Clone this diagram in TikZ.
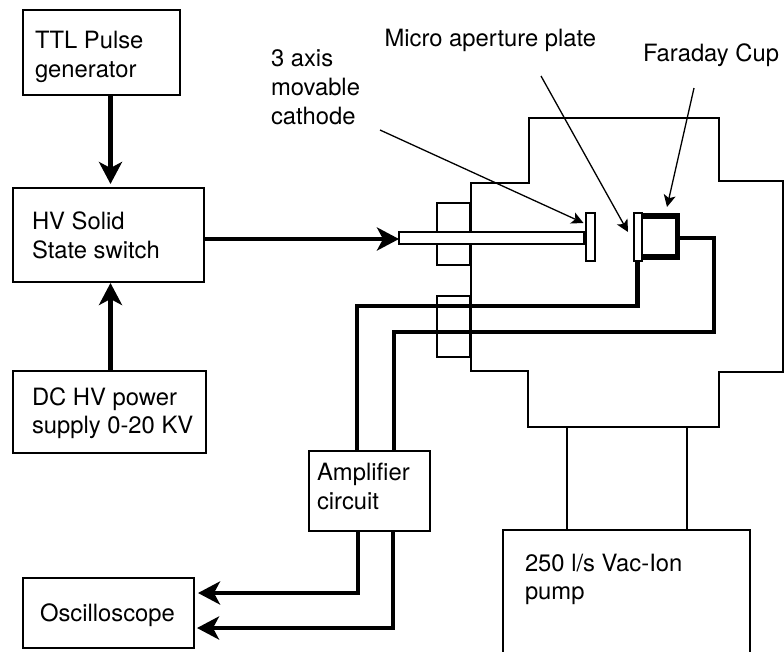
\documentclass[tikz,border=0pt]{standalone}
\usepackage{fontspec}
\setmainfont{TeX Gyre Heros}
\usetikzlibrary{arrows.meta,calc}
\tikzset{
  box/.style={draw=black,line width=1.5pt,fill=none,inner sep=0pt,outer sep=0pt},
  part/.style={draw=black,line width=1.5pt,fill=white,inner sep=0pt,outer sep=0pt},
  txt/.style={inner sep=0pt,outer sep=0pt,anchor=base west,align=left,font=\fontsize{23.8}{29.3}\selectfont},
  wall/.style={draw=black,line width=1.5pt,line join=miter},
  wire/.style={draw=black,line width=4.6pt,line join=miter},
  bigarrow/.style={wire,-{Stealth[length=22pt,width=23pt,inset=6pt]}},
  thin arrow/.style={draw=black,line width=1.3pt,-{Stealth[length=12pt,width=12pt,inset=3pt]}},
}
\begin{document}
\begin{tikzpicture}[x=1pt,y=-1pt]
\useasboundingbox (0,0) rectangle (784,651);
\clip (0,0) rectangle (784,651);
% blocks
\node[box,minimum width=157pt,minimum height=85pt] (ttl) at (101.5,52.5) {};
\node[box,minimum width=191pt,minimum height=94pt] (hv) at (108.5,235) {};
\node[box,minimum width=193pt,minimum height=82pt] (dc) at (109.5,412) {};
\node[box,minimum width=121pt,minimum height=80pt] (amp) at (369.5,491) {};
\node[box,minimum width=171pt,minimum height=70pt] (osc) at (108.5,613) {};
\node[box,minimum width=247pt,minimum height=160pt] (pump) at (626.5,610) {};
% chamber
\draw[wall] (529,118) coordinate (chtop) -- (719,118) -- (719,181) -- (783,181) -- (783,372) -- (719,372)
  -- (719,427) coordinate (chbr) -- (528,427) coordinate (chbl) -- (528,371) -- (471,371) -- (471,183) -- (529,183) -- cycle;
\node[box,minimum width=33pt,minimum height=62pt] (flangeA) at (453.5,234) {};
\node[box,minimum width=33pt,minimum height=61pt] (flangeB) at (453.5,326.5) {};
% pump connection
\coordinate (pipeA) at (567,427);
\coordinate (pipeB) at (687,427);
\draw[wall] (pipeA) -- (pipeA |- pump.north);
\draw[wall] (pipeB) -- (pipeB |- pump.north);
% cathode
\node[part,minimum width=185pt,minimum height=12pt] (rod) at (491.5,238) {};
\node[part,minimum width=9pt,minimum height=48pt] (disk) at (590.5,237) {};
\draw[black,line width=2.5pt] (rod.east) ++(0,6) -- ++(0,-12);
% cup and plate
\node[draw=black,line width=5.6pt,inner sep=0pt,outer sep=0pt,minimum width=38pt,minimum height=41pt,fill=white] (cup) at (658.5,236.5) {};
\node[part,minimum width=8pt,minimum height=48pt] (plate) at (638,237) {};
% wires
\coordinate (wA) at (357,306);
\coordinate (wB) at (394,332);
\coordinate (wC) at (714,238);
\coordinate (outA) at (358,593);
\coordinate (outB) at (393,628);
\draw[wire] ([xshift=-0.5pt]plate.south) |- (wA) -- (wA |- amp.north);
\draw[wire] ([xshift=2.8pt,yshift=-1.5pt]cup.east) -- (wC) -- (wC |- wB) -- (wB) -- (wB |- amp.north);
% arrows
\draw[bigarrow] ([xshift=9pt]ttl.south) -- ([xshift=2pt,yshift=4pt]hv.north);
\draw[bigarrow] ([xshift=1pt]dc.north) -- ([xshift=2pt,yshift=-1pt]hv.south);
\draw[bigarrow] ([yshift=-4pt]hv.east) -- ([yshift=-1pt]rod.west);
\draw[bigarrow] (outA |- amp.south) -- (outA) -- ([xshift=4pt]outA -| osc.east);
\draw[bigarrow] (outB |- amp.south) -- (outB) -- ([xshift=3pt]outB -| osc.east);
% labels with pointers
\coordinate (cathfrom) at (380,130);
\coordinate (platefrom) at (541,76);
\coordinate (cupfrom) at (694,88);
\draw[thin arrow] (cathfrom) -- ([xshift=-2.5pt,yshift=14pt]disk.west);
\draw[thin arrow] (platefrom) -- ([xshift=-6pt,yshift=5pt]plate.west);
\draw[thin arrow] (cupfrom) -- ([xshift=8.5pt,yshift=9pt]cup.north);
% texts
\node[txt] (t1) at (35,48) {TTL Pulse};
\node[txt] (t1b) at (35,77) {generator};
\node[txt] (t2) at (32,229) {HV Solid};
\node[txt] (t2b) at (32,258) {State switch};
\node[txt] (t3) at (32,405) {DC HV power};
\node[txt] (t3b) at (32,433) {supply 0-20 KV};
\node[txt] (t4) at (317,480) {Amplifier};
\node[txt] (t4b) at (317,509) {circuit};
\node[txt] (t5) at (40,621) {Oscilloscope};
\node[txt] (t6) at (525,571) {250 l/s Vac-Ion};
\node[txt] (t6b) at (525,599) {pump};
\node[txt] (t7) at (271,66) {3 axis};
\node[txt] (t7b) at (271,95) {movable};
\node[txt] (t7c) at (271,124) {cathode};
\node[txt] (t8) at (384.5,46) {Micro aperture plate};
\node[txt] (t9) at (643,61) {Faraday Cup};
\end{tikzpicture}
\end{document}
